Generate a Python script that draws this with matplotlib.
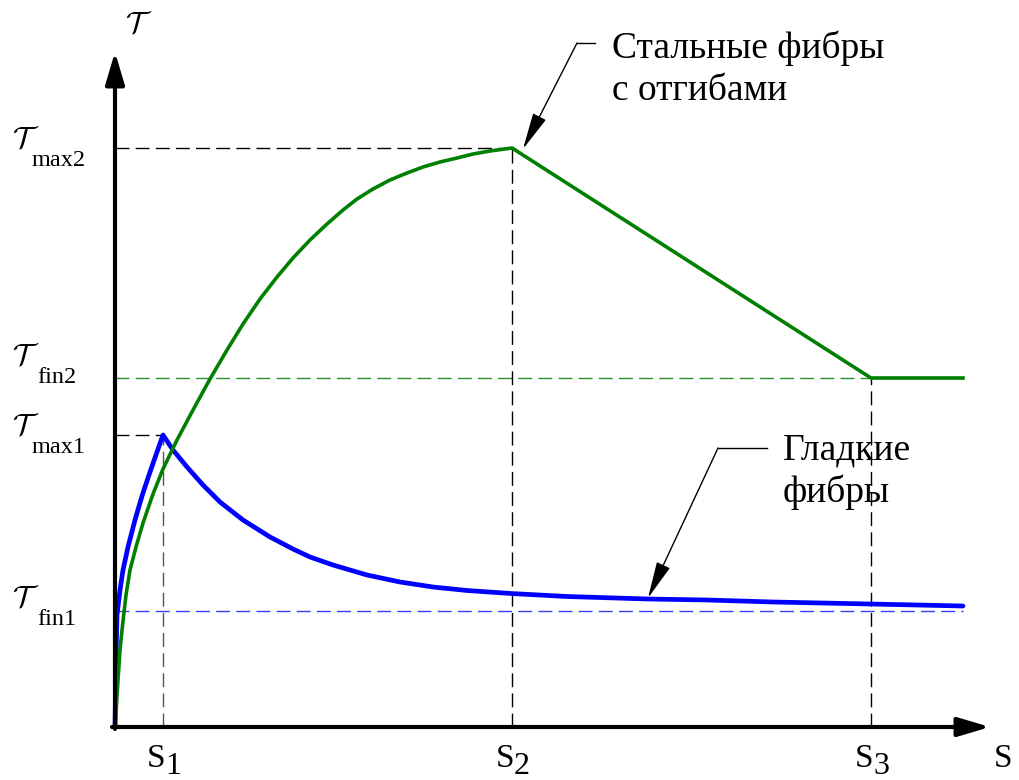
import matplotlib
matplotlib.use("Agg")
import matplotlib.pyplot as plt

plt.rcParams["font.family"] = ["Liberation Serif", "DejaVu Serif"]

# characteristic slips and stresses (arbitrary units)
s_points = [0.48, 3.97, 7.56]
s_end = 8.48
tau_max1 = 2.92
tau_max2 = 5.79
tau_fin1 = 1.16
tau_fin2 = 3.49

# smooth (straight) fibres - bond stress vs slip
smooth_s = [0.0, 0.01, 0.02, 0.05, 0.08, 0.13, 0.20, 0.27, 0.35, 0.42,
            0.48, 0.58, 0.72, 0.88, 1.05, 1.28, 1.55, 1.78, 1.95, 2.18,
            2.52, 2.85, 3.18, 3.52, 3.96, 4.52, 5.33, 5.92, 6.58, 7.55,
            8.48]
smooth_tau = [0.0, 0.67, 1.12, 1.37, 1.57, 1.80, 2.07, 2.31, 2.55, 2.75,
              2.92, 2.77, 2.60, 2.42, 2.25, 2.07, 1.90, 1.78, 1.70, 1.62,
              1.52, 1.45, 1.40, 1.365, 1.335, 1.305, 1.28, 1.27, 1.25, 1.23,
              1.21]

# hooked-end steel fibres
hooked_s = [0.0, 0.01, 0.03, 0.05, 0.07, 0.11, 0.15, 0.21, 0.28, 0.38,
            0.48, 0.62, 0.78, 0.95, 1.12, 1.28, 1.45, 1.62, 1.78, 1.95,
            2.12, 2.28, 2.42, 2.58, 2.75, 2.92, 3.08, 3.25, 3.42, 3.58,
            3.75, 3.97, 7.56, 8.48]
hooked_tau = [0.0, 0.14, 0.47, 0.77, 0.97, 1.32, 1.57, 1.80, 2.04, 2.33,
              2.58, 2.87, 3.17, 3.48, 3.77, 4.03, 4.28, 4.50, 4.69, 4.87,
              5.03, 5.17, 5.28, 5.38, 5.47, 5.54, 5.60, 5.65, 5.69, 5.73,
              5.76, 5.79, 3.49, 3.49]

level_labels = [("max2", tau_max2), ("fin2", tau_fin2),
                ("max1", tau_max1), ("fin1", tau_fin1)]
s_labels = ["1", "2", "3"]
hooked_text = ["Стальные фибры", "с отгибами"]
smooth_text = ["Гладкие", "фибры"]

fig = plt.figure(figsize=(10.19, 7.80), dpi=100)
ax = fig.add_axes([0, 0, 1, 1])
ax.set_xlim(-1.15, 9.04)
ax.set_ylim(-0.53, 7.27)
ax.axis("off")

x_tip = 8.75
y_tip = 6.75
dash = (10, 4.5)

# guide lines
ax.plot([0, s_points[1]], [tau_max2, tau_max2], color="k", lw=1, dashes=dash)
ax.plot([0, s_points[0]], [tau_max1, tau_max1], color="k", lw=1, dashes=dash)
ax.plot([0, s_end], [tau_fin2, tau_fin2], color="#2e8b2e", lw=1, dashes=dash)
ax.plot([0, s_end], [tau_fin1, tau_fin1], color="#3c3cff", lw=1, dashes=dash)
ax.plot([s_points[0]] * 2, [0, tau_max1], color="#555555", lw=1, dashes=dash)
ax.plot([s_points[1]] * 2, [0, tau_max2], color="k", lw=1, dashes=dash)
ax.plot([s_points[2]] * 2, [0, tau_fin2], color="k", lw=1, dashes=dash)

# curves
ax.plot(smooth_s, smooth_tau, color="#0000ff", lw=3.4, zorder=3,
        solid_joinstyle="round", solid_capstyle="round")
ax.plot(hooked_s, hooked_tau, color="#008000", lw=2.6, zorder=4,
        solid_joinstyle="round")

# axes with arrows
axis_arrow = dict(arrowstyle="-|>,head_length=1.95,head_width=0.58",
                  lw=3, color="k", shrinkA=0, shrinkB=0)
ax.annotate("", xy=(0, y_tip), xytext=(0, -0.02), arrowprops=axis_arrow,
            zorder=6)
ax.annotate("", xy=(x_tip, 0), xytext=(-0.03, 0), arrowprops=axis_arrow,
            zorder=6)

# axis titles
ax.annotate(r"$\mathcal{T}$", xy=(0, y_tip), xytext=(10, 19),
            textcoords="offset pixels", ha="left", va="baseline",
            fontsize=22, math_fontfamily="cm")
ax.annotate("S", xy=(x_tip, 0), xytext=(4, -40), textcoords="offset pixels",
            ha="left", va="baseline", fontsize=24)

# level labels on the stress axis
label_dy = {"max2": 0, "fin2": 13, "max1": 0, "fin1": 4}
for name, level in level_labels:
    dy = label_dy[name]
    ax.annotate(r"$\mathcal{T}$", xy=(0, level), xytext=(-103, dy),
                textcoords="offset pixels", ha="left", va="baseline",
                fontsize=22, math_fontfamily="cm")
    sub_dx = -83 if name.startswith("max") else -78
    ax.annotate(name, xy=(0, level), xytext=(sub_dx, dy - 18),
                textcoords="offset pixels", ha="left", va="baseline",
                fontsize=17.5)

# slip labels
for s, sub in zip(s_points, s_labels):
    ax.annotate("S", xy=(s, 0), xytext=(-16, -40), textcoords="offset pixels",
                ha="left", va="baseline", fontsize=24)
    ax.annotate(sub, xy=(s, 0), xytext=(2, -47), textcoords="offset pixels",
                ha="left", va="baseline", fontsize=23)

# callouts
leader = dict(arrowstyle="-|>,head_length=2.3,head_width=0.45",
              lw=1, color="k", shrinkA=0, shrinkB=0)


def callout(lines, text_xy, elbow, tip):
    x0, y0 = text_xy
    for i, line in enumerate(lines):
        ax.annotate(line, xy=(x0, y0), xytext=(0, -42 * i),
                    textcoords="offset pixels", ha="left", va="baseline",
                    fontsize=27)
    ax.plot([elbow[0][0], elbow[1][0]], [elbow[0][1], elbow[1][1]],
            color="k", lw=1)
    ax.annotate("", xy=tip, xytext=elbow[1], arrowprops=leader, zorder=7)


callout(hooked_text, (4.97, 6.69),
        [(4.80, 6.84), (4.62, 6.84)], (4.08, 5.78))
callout(smooth_text, (6.68, 2.67),
        [(6.52, 2.79), (6.03, 2.79)], (5.33, 1.29))

fig.savefig("out.png", dpi=100, facecolor="white")
